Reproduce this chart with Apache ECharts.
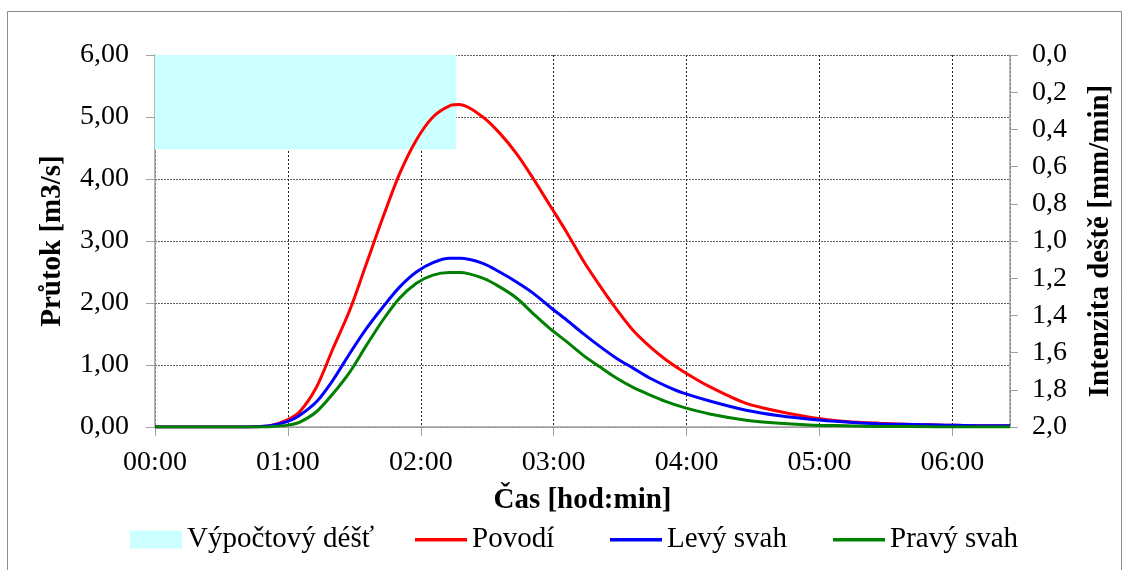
<!DOCTYPE html>
<html>
<head>
<meta charset="utf-8">
<script src="https://cdn.jsdelivr.net/npm/echarts@6/dist/echarts.min.js"></script>
<style>
  html, body { margin: 0; padding: 0; background: #ffffff; }
  #chart { width: 1131px; height: 570px; }
</style>
</head>
<body>
<div id="chart"></div>
<script>
// Time in minutes from the start of the event
const timeMin = [0, 30, 45, 52, 60, 65.4, 73, 80.4, 88, 95.5, 103, 110.5, 118, 125.5, 133, 137.6, 148, 155.6, 163.2, 170.7, 178.2, 185.7, 193.2, 200.8, 208.3, 215.8, 223.3, 230.8, 238.3, 250.4, 266.9, 282, 297, 312, 327, 342, 357, 372, 386];

// Discharge [m3/s]
const povodi = [0, 0, 0.005, 0.02, 0.12, 0.25, 0.65, 1.27, 1.89, 2.64, 3.39, 4.09, 4.63, 5.00, 5.18, 5.20, 5.00, 4.74, 4.41, 4.01, 3.58, 3.15, 2.69, 2.28, 1.90, 1.56, 1.30, 1.08, 0.90, 0.65, 0.38, 0.25, 0.15, 0.09, 0.06, 0.04, 0.03, 0.02, 0.02];
const levySvah = [0, 0, 0.005, 0.02, 0.09, 0.19, 0.41, 0.76, 1.19, 1.59, 1.94, 2.26, 2.50, 2.65, 2.72, 2.72, 2.64, 2.50, 2.34, 2.16, 1.94, 1.73, 1.51, 1.30, 1.11, 0.95, 0.79, 0.66, 0.55, 0.42, 0.27, 0.18, 0.12, 0.08, 0.05, 0.04, 0.03, 0.02, 0.02];
const pravySvah = [0, 0, 0, 0.005, 0.03, 0.08, 0.25, 0.54, 0.89, 1.32, 1.73, 2.08, 2.32, 2.45, 2.49, 2.49, 2.40, 2.26, 2.08, 1.83, 1.59, 1.38, 1.16, 0.97, 0.79, 0.64, 0.52, 0.41, 0.32, 0.21, 0.11, 0.06, 0.03, 0.02, 0.01, 0.01, 0, 0, 0];

// Design rainfall: intensity [mm/min] over its duration [min]
const rainTime = [0, 136];
const rainIntensity = [0.507, 0.507];

const seriesNames = ['Výpočtový déšť', 'Povodí', 'Levý svah', 'Pravý svah'];

const FONT = '"Liberation Serif", "Times New Roman", serif';
const FS_TICK = 28;
const FS_TEXT = 29;
const AXIS_GRAY = '#a0a0a0';
// Legend line swatch: a 52x3.5 bar centred in an 18 px tall box
const LINE_ICON = 'path://M0,0h0.01v0.01h-0.01z M0,7.5h52v3.5h-52z M51.99,17.99h0.01v0.01h-0.01z';
const legendLeft = [125, 410, 605, 828];
const legendIcon = ['rect', LINE_ICON, LINE_ICON, LINE_ICON];

function pairs(xs, ys) { return xs.map((x, i) => [x, ys[i]]); }
function hhmm(m) {
  const h = Math.floor(m / 60), mm = Math.round(m % 60);
  return String(h).padStart(2, '0') + ':' + String(mm).padStart(2, '0');
}

const chart = echarts.init(document.getElementById('chart'), null, { renderer: 'canvas' });

const lineSeries = (name, data, color) => ({
  name, type: 'line', data: pairs(timeMin, data), yAxisIndex: 0,
  symbol: 'none', smooth: 0.3,
  lineStyle: { color, width: 3 }, itemStyle: { color }, z: 3
});

chart.setOption({
  animation: false,
  backgroundColor: '#ffffff',
  textStyle: { fontFamily: FONT },
  graphic: [{
    type: 'rect', silent: true, z: -10,
    shape: { x: 7.5, y: 11.5, width: 1114, height: 600 },
    style: { fill: null, stroke: '#8c8c8c', lineWidth: 1 }
  }],
  grid: { left: 155, right: 121, top: 55, bottom: 143, containLabel: false },
  // one legend block per entry, spaced along the bottom row
  legend: seriesNames.map((name, i) => ({
    bottom: 11, left: legendLeft[i],
    itemWidth: 52, itemHeight: 18, itemGap: 0,
    textStyle: { fontFamily: FONT, fontSize: FS_TEXT, color: '#000' },
    data: [{ name, icon: legendIcon[i] }]
  })),
  xAxis: {
    type: 'value', min: 0, max: 386, interval: 60,
    name: 'Čas [hod:min]', nameLocation: 'middle', nameGap: 59,
    nameTextStyle: { fontFamily: FONT, fontSize: FS_TEXT, fontWeight: 'bold', color: '#000' },
    axisLine: { show: true, onZero: false, lineStyle: { color: AXIS_GRAY, width: 1.5 } },
    axisTick: { show: true, length: 9, lineStyle: { color: AXIS_GRAY } },
    axisLabel: { formatter: v => hhmm(v), fontFamily: FONT, fontSize: FS_TICK, color: '#000', margin: 22, showMaxLabel: false },
    splitLine: { show: true, lineStyle: { color: '#222', type: [2, 2], width: 1 } }
  },
  yAxis: [{
    type: 'value', min: 0, max: 6, interval: 1, position: 'left',
    name: 'Průtok [m3/s]', nameLocation: 'middle', nameGap: 88,
    nameTextStyle: { fontFamily: FONT, fontSize: FS_TEXT, fontWeight: 'bold', color: '#000' },
    axisLine: { show: true, lineStyle: { color: AXIS_GRAY, width: 1.5 } },
    axisTick: { show: true, length: 9, lineStyle: { color: AXIS_GRAY } },
    axisLabel: { formatter: v => v.toFixed(2).replace('.', ','), fontFamily: FONT, fontSize: FS_TICK, color: '#000', margin: 26 },
    splitLine: { show: true, lineStyle: { color: '#666', type: [2, 1], width: 1 } }
  }, {
    type: 'value', min: 0, max: 2, interval: 0.2, inverse: true, position: 'right',
    name: 'Intenzita deště [mm/min]', nameLocation: 'middle', nameGap: 76,
    nameTextStyle: { fontFamily: FONT, fontSize: FS_TEXT, fontWeight: 'bold', color: '#000' },
    axisLine: { show: true, lineStyle: { color: AXIS_GRAY, width: 1.5 } },
    axisTick: { show: true, length: 8, lineStyle: { color: AXIS_GRAY } },
    axisLabel: { formatter: v => v.toFixed(1).replace('.', ','), fontFamily: FONT, fontSize: FS_TICK, color: '#000', margin: 22 },
    splitLine: { show: false }
  }],
  series: [
    {
      name: seriesNames[0], type: 'line', yAxisIndex: 1,
      data: pairs(rainTime, rainIntensity),
      symbol: 'none', lineStyle: { width: 0, color: '#ccffff' },
      itemStyle: { color: '#ccffff' },
      areaStyle: { color: '#ccffff', opacity: 1, origin: 'start' }, z: 1
    },
    lineSeries(seriesNames[1], povodi, '#ff0000'),
    lineSeries(seriesNames[2], levySvah, '#0000ff'),
    lineSeries(seriesNames[3], pravySvah, '#008000')
  ]
});
</script>
</body>
</html>
